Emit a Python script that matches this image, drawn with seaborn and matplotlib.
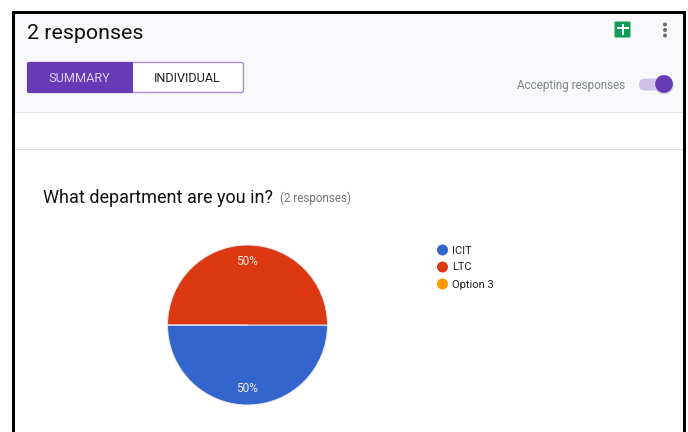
import matplotlib
matplotlib.use("Agg")
import matplotlib.pyplot as plt
from matplotlib.patches import Rectangle, FancyBboxPatch, Circle
import seaborn as sns

# Responses per department
departments = ["ICIT", "LTC", "Option 3"]
responses = [1, 1, 0]
slice_colors = ["#3366cc", "#dc3912", "#ff9900"]

page_title = "2 responses"
question = "What department are you in?"
question_note = "(2 responses)"
tab_labels = ["SUMMARY", "INDIVIDUAL"]
switch_label = "Accepting responses"

sns.set_theme(style="white")
plt.rcParams["font.family"] = ["Roboto", "DejaVu Sans"]

W, H = 688, 432
fig = plt.figure(figsize=(W / 100, H / 100), dpi=100, facecolor="white")

# Page furniture is laid out on a canvas measured in pixels from the top-left
ui = fig.add_axes([0, 0, 1, 1])
ui.set_xlim(0, W)
ui.set_ylim(H, 0)
ui.axis("off")

PURPLE = "#673ab7"


def rect(x, y, w, h, color, z=1):
    ui.add_patch(Rectangle((x, y), w, h, facecolor=color, edgecolor="none", zorder=z))


# Header band and dividers
rect(15, 14, 668, 98, "#f8f8fb")
rect(15, 112, 668, 1, "#e2e2e4")
rect(15, 149, 668, 1, "#e2e2e4")

# Window frame, open at the bottom
rect(12, 11, 674, 3, "black", 5)
rect(12, 11, 3, 421, "black", 5)
rect(683, 11, 3, 421, "black", 5)

ui.text(27, 33.5, page_title, fontsize=15.4, color="#111111", va="center", ha="left")

# Segmented tabs
ui.add_patch(FancyBboxPatch((27.5, 62.5), 216, 30, boxstyle="round,pad=0,rounding_size=2",
                            facecolor="white", edgecolor="#a98fdb", linewidth=1, zorder=2))
ui.add_patch(FancyBboxPatch((27, 62), 105, 31, boxstyle="round,pad=0,rounding_size=2",
                            facecolor=PURPLE, edgecolor="none", zorder=3))
rect(125, 62, 7.5, 31, PURPLE, 3)
ui.text(79.5, 78, tab_labels[0], fontsize=9.2, color="#d9cdf0", ha="center", va="center", zorder=4)
ui.text(187.3, 78, tab_labels[1], fontsize=9.1, color="#212121", ha="center", va="center", zorder=4)

# Spreadsheet icon
ui.add_patch(FancyBboxPatch((614.5, 21.5), 16, 16, boxstyle="round,pad=0,rounding_size=1",
                            facecolor="#0f9d58", edgecolor="none", zorder=2))
rect(617, 27, 12, 2, "white", 3)
rect(621.5, 24, 2, 11, "white", 3)

# Overflow menu dots
for dot_y in (24.5, 30, 35.5):
    ui.add_patch(Circle((665, dot_y), 2, facecolor="#6b6b6b", edgecolor="none", zorder=2))

# Toggle
ui.text(625, 85, switch_label, fontsize=8.35, color="#80868b", ha="right", va="center")
ui.add_patch(FancyBboxPatch((639, 78.5), 30, 12, boxstyle="round,pad=0,rounding_size=6",
                            facecolor="#cdc1e8", edgecolor="none", zorder=2))
ui.add_patch(Circle((664, 84.8), 9.8, facecolor="#d8d8de", edgecolor="none", zorder=2.5))
ui.add_patch(Circle((664, 84), 8.9, facecolor=PURPLE, edgecolor="none", zorder=3))

# Question heading
ui.text(43, 198, question, fontsize=13, color="#111111", va="center", ha="left")
ui.text(280, 198, question_note, fontsize=8.4, color="#70757a", va="center", ha="left")

# Pie chart: centre (247.5, 325), radius 80 px
palette = sns.color_palette(slice_colors)
pie_ax = fig.add_axes([(247.5 - 81) / W, 1 - (325 + 81) / H, 162 / W, 162 / H])
wedges, _, autotexts = pie_ax.pie(
    responses,
    colors=palette,
    startangle=180,
    counterclock=True,
    radius=1,
    autopct=lambda pct: f"{pct:.0f}%" if pct > 0 else "",
    pctdistance=0.8,
    wedgeprops={"edgecolor": "#e8e8f0", "linewidth": 0.7},
    textprops={"fontsize": 8.6, "color": "#f3e6e0"},
)
pie_ax.set_xlim(-1.0125, 1.0125)
pie_ax.set_ylim(-1.0125, 1.0125)

# Legend rows keyed to the same departments and colours
legend_y = [250, 267, 284]
for name, color, y in zip(departments, palette, legend_y):
    ui.add_patch(Circle((442.5, y), 5.5, facecolor=color, edgecolor="none", zorder=2))
    ui.text(452, y + 0.5, name, fontsize=8, color="#222222", ha="left", va="center")

fig.savefig("out.png", dpi=100, facecolor="white")
